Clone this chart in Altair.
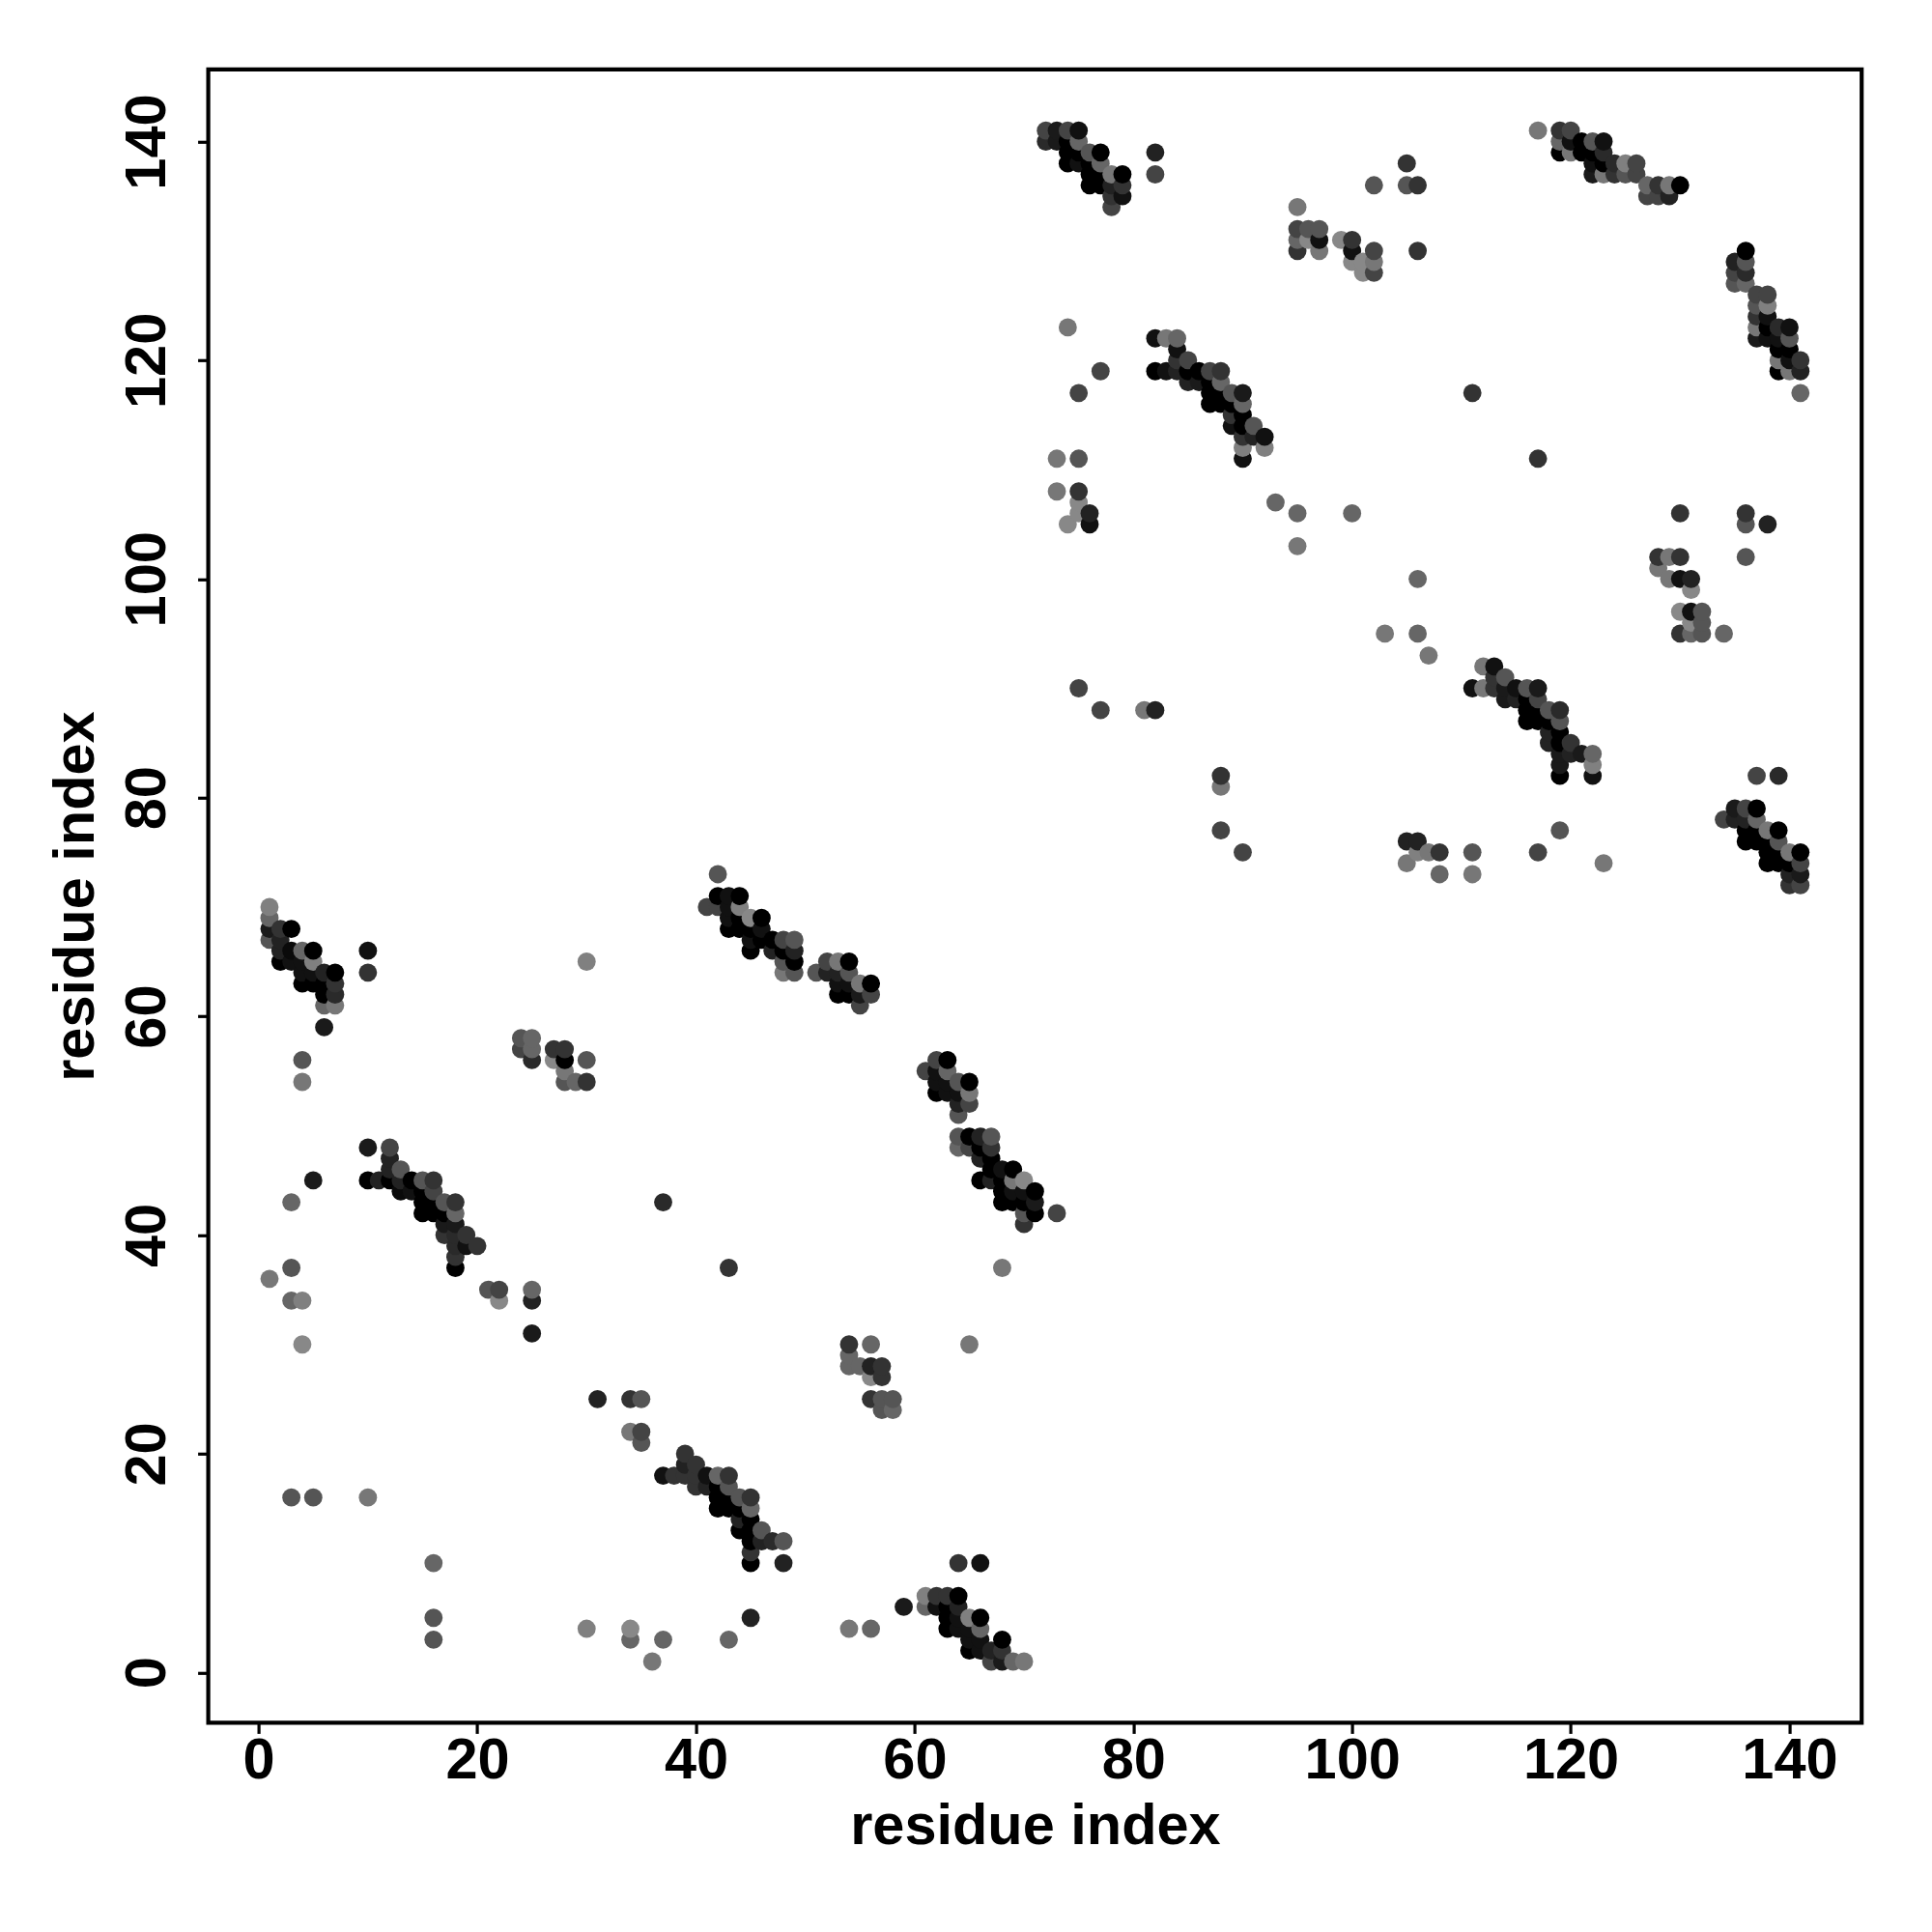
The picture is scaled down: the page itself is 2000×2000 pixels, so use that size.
import altair as alt
import pandas as pd

# (residue on x, residue on y, grey level 0-255)
block_a = [(1,70,0x80),(1,69,0x66),(1,68,0x1a),(1,67,0x55),(2,68,0x33),(2,67,0x22),(2,66,0x22),(2,65,0x00),
 (3,68,0x00),(3,66,0x0a),(3,65,0x11),(4,66,0x66),(4,65,0x11),(4,64,0x11),(4,63,0x00),(5,66,0x00),(5,65,0x80),
 (5,64,0x11),(5,63,0x00),(6,64,0x22),(6,63,0x00),(6,62,0x00),(6,61,0x66),(6,59,0x1a),(7,64,0x00),(7,63,0x33),
 (7,62,0x2a),(7,61,0x77),(10,66,0x11),(10,64,0x33),(4,56,0x55),(4,54,0x77)]
block_b = [(24,58,0x55),(25,58,0x66),(24,57,0x44),(25,57,0x66),(25,56,0x2a),(27,57,0x33),(28,57,0x33),(27,56,0x88),
 (28,56,0x00),(28,55,0x77),(28,54,0x55),(29,54,0x66),(30,56,0x55),(30,54,0x33),(30,65,0x80)]
block_c = [(10,48,0x1a),(12,48,0x44),(10,45,0x00),(11,45,0x22),(12,47,0x22),(12,46,0x22),(12,45,0x00),(13,46,0x55),
 (13,45,0x22),(13,44,0x0a),(14,45,0x00),(14,44,0x11),(15,45,0x55),(15,44,0x00),(15,43,0x00),(15,42,0x00),
 (16,45,0x33),(16,44,0x44),(16,43,0x00),(16,42,0x00),(17,43,0x55),(17,42,0x00),(17,41,0x1a),(17,40,0x33),
 (18,43,0x33),(18,42,0x66),(18,41,0x1a),(18,40,0x2a),(18,39,0x2a),(18,38,0x33),(18,37,0x00),(19,40,0x33),
 (19,39,0x11),(20,39,0x33)]
block_d = [(5,45,0x1a),(3,43,0x66),(3,37,0x55),(1,36,0x77),(3,34,0x66),(4,34,0x80),(4,30,0x88),(21,35,0x55),
 (22,35,0x44),(22,34,0x88),(25,35,0x66),(25,34,0x22),(25,31,0x1a),(37,43,0x2a),(43,37,0x33),(68,37,0x77),(65,30,0x77)]
block_e = [(37,18,0x11),(38,18,0x33),(39,20,0x33),(39,19,0x22),(39,18,0x33),(40,19,0x33),(40,18,0x33),(40,17,0x33),
 (41,18,0x11),(41,17,0x22),(42,18,0x66),(42,17,0x00),(42,16,0x00),(42,15,0x00),(43,18,0x33),(43,17,0x55),
 (43,16,0x00),(43,15,0x00),(44,16,0x55),(44,15,0x00),(44,14,0x22),(44,13,0x00),(45,16,0x33),(45,15,0x66),
 (45,14,0x00),(45,13,0x00),(45,12,0x00),(45,11,0x33),(45,10,0x00),(46,13,0x55),(46,12,0x22),(47,12,0x2a),
 (48,12,0x55),(48,10,0x22)]
block_f = [(45,5,0x22),(43,3,0x66),(37,3,0x66),(36,1,0x77),(34,4,0x88),(34,3,0x66),(30,4,0x80),(54,4,0x77),(56,4,0x66),
 (59,6,0x1a),(64,10,0x33),(66,10,0x11),(3,16,0x55),(5,16,0x55),(10,16,0x77),(16,10,0x66),(16,5,0x55),(16,3,0x55)]
block_g = [(61,7,0x80),(61,6,0x66),(62,7,0x33),(62,6,0x11),(63,7,0x33),(63,6,0x00),(63,5,0x00),(63,4,0x00),(64,7,0x00),
 (64,6,0x22),(64,5,0x11),(64,4,0x11),(65,5,0x80),(65,4,0x11),(65,3,0x11),(65,2,0x00),(66,5,0x00),(66,4,0x66),
 (66,3,0x11),(66,2,0x11),(67,2,0x22),(67,1,0x44),(68,3,0x00),(68,2,0x33),(68,1,0x1a),(69,1,0x66),(70,1,0x77)]
block_h = [(31,25,0x22),(34,25,0x33),(35,25,0x55),(34,22,0x77),(35,22,0x44),(35,21,0x55),(54,30,0x33),(54,29,0x66),
 (54,28,0x66),(55,28,0x66),(56,30,0x66),(56,28,0x22),(57,28,0x33),(57,27,0x33),(56,27,0x88),(56,25,0x33),
 (57,25,0x55),(58,25,0x55),(57,24,0x55),(58,24,0x66)]
block_i = [(42,73,0x55),(41,70,0x44),(42,71,0x00),(42,70,0x44),(43,71,0x11),(43,70,0x11),(43,69,0x11),(43,68,0x00),
 (44,71,0x00),(44,70,0x80),(44,69,0x00),(44,68,0x00),(45,69,0x88),(45,68,0x00),(45,67,0x11),(45,66,0x00),
 (46,69,0x00),(46,68,0x11),(46,67,0x00),(47,67,0x00),(47,66,0x22),(48,67,0x44),(48,66,0x00),(48,65,0x55),
 (48,64,0x77),(49,67,0x55),(49,66,0x22),(49,65,0x00),(49,64,0x55),(51,64,0x55),(52,65,0x44),(52,64,0x22),
 (53,65,0x77),(53,64,0x22),(53,63,0x11),(53,62,0x00),(54,65,0x00),(54,64,0x55),(54,63,0x11),(54,62,0x00),
 (55,63,0x77),(55,62,0x1a),(55,61,0x44),(56,63,0x00),(56,62,0x44)]
block_j = [(61,55,0x44),(62,56,0x44),(62,55,0x11),(62,54,0x11),(62,53,0x00),(63,56,0x00),(63,55,0x66),(63,54,0x11),
 (63,53,0x11),(64,54,0x55),(64,53,0x11),(64,52,0x22),(64,51,0x55),(65,54,0x00),(65,53,0x77),(65,52,0x44),
 (64,49,0x55),(64,48,0x66),(65,49,0x00),(65,48,0x44),(66,49,0x22),(66,48,0x00),(66,47,0x22),(67,49,0x55),
 (67,48,0x33),(67,47,0x00),(67,46,0x00),(66,45,0x00),(67,45,0x22),(68,46,0x11),(68,45,0x00),(69,46,0x00),
 (69,45,0x77),(69,44,0x11),(69,43,0x00),(68,44,0x00),(68,43,0x00),(70,45,0x88),(70,44,0x11),(70,43,0x00),
 (70,42,0x55),(70,41,0x33),(71,44,0x00),(71,43,0x1a),(71,42,0x00),(73,42,0x44)]
block_k = [(72,141,0x44),(72,140,0x2a),(73,141,0x1a),(73,140,0x1a),(74,141,0x44),(74,140,0x00),(74,139,0x00),(74,138,0x00),
 (75,141,0x11),(75,140,0x66),(75,139,0x00),(75,138,0x11),(76,139,0x55),(76,138,0x00),(76,137,0x00),(76,136,0x00),
 (77,139,0x00),(77,138,0x66),(77,137,0x00),(77,136,0x00),(78,137,0x77),(78,136,0x22),(78,135,0x33),(78,134,0x44),
 (79,137,0x00),(79,136,0x33),(79,135,0x11),(82,139,0x22),(82,137,0x44)]
block_l = [(95,134,0x77),(95,132,0x44),(95,131,0x66),(95,130,0x33),(96,132,0x55),(96,131,0x88),(97,132,0x55),(97,131,0x11),
 (97,130,0x77),(99,131,0x88),(100,131,0x33),(100,130,0x11),(100,129,0x88),(101,129,0x88),(101,128,0x88),(102,130,0x44),
 (102,129,0x77),(102,128,0x44),(102,136,0x55),(105,138,0x33),(105,136,0x55),(106,136,0x33),(106,130,0x33)]
block_m = [(82,122,0x11),(83,122,0x77),(84,122,0x66),(82,119,0x00),(83,119,0x11),(84,121,0x11),(84,120,0x33),(84,119,0x22),
 (85,120,0x44),(85,119,0x00),(85,118,0x22),(86,119,0x00),(86,118,0x1a),(87,119,0x44),(87,118,0x00),(87,117,0x00),
 (87,116,0x00),(88,119,0x33),(88,118,0x66),(88,117,0x00),(88,116,0x00),(89,117,0x55),(89,116,0x00),(89,115,0x33),
 (89,114,0x11),(90,117,0x1a),(90,116,0x66),(90,115,0x00),(90,114,0x00),(90,113,0x33),(90,112,0x80),(90,111,0x11),
 (91,114,0x55),(91,113,0x22),(92,113,0x11),(92,112,0x80)]
block_n = [(73,111,0x77),(75,111,0x55),(73,108,0x77),(75,108,0x33),(75,107,0x88),(75,106,0x88),(74,105,0x88),(76,106,0x22),
 (76,105,0x11),(74,123,0x77),(77,119,0x44),(75,117,0x44),(75,90,0x44),(77,88,0x44),(81,88,0x77),(82,88,0x22),
 (88,82,0x33),(88,81,0x77),(88,77,0x44),(90,75,0x44),(93,107,0x66),(95,106,0x66),(95,103,0x77),(100,106,0x66),
 (103,95,0x77),(106,100,0x66),(106,95,0x66),(107,93,0x77),(105,76,0x22),(106,76,0x22),(105,74,0x77),(106,75,0x80),
 (107,75,0x77),(108,75,0x33),(108,73,0x66),(111,75,0x55),(111,73,0x77),(117,75,0x44),(119,77,0x55),(123,74,0x77),
 (117,111,0x33),(111,117,0x33)]
block_o = [(117,141,0x77),(119,141,0x33),(119,140,0x66),(119,139,0x00),(120,141,0x44),(120,140,0x11),(120,139,0x77),
 (121,140,0x00),(121,139,0x00),(122,140,0x55),(122,139,0x00),(122,138,0x11),(122,137,0x1a),(123,140,0x11),(123,139,0x2a),
 (123,138,0x00),(123,137,0x77),(124,138,0x2a),(124,137,0x33),(125,138,0x80),(125,137,0x55),(126,138,0x44),(126,137,0x44),
 (127,136,0x66),(127,135,0x44),(128,136,0x33),(128,135,0x44),(129,136,0x77),(129,135,0x22),(130,136,0x00)]
block_p = [(135,129,0x22),(135,128,0x44),(135,127,0x55),(136,130,0x00),(136,129,0x55),(136,128,0x2a),(136,127,0x66),
 (137,126,0x44),(137,125,0x55),(137,124,0x33),(137,123,0x77),(137,122,0x1a),(138,126,0x44),(138,125,0x80),(138,124,0x11),
 (138,123,0x00),(138,122,0x11),(139,123,0x2a),(139,122,0x11),(139,121,0x00),(139,120,0x77),(139,119,0x00),(140,123,0x11),
 (140,122,0x55),(140,121,0x00),(140,120,0x11),(140,119,0x77),(141,120,0x33),(141,119,0x22),(141,117,0x66)]
block_q = [(111,90,0x11),(112,92,0x77),(112,90,0x77),(113,92,0x11),(113,91,0x33),(113,90,0x33),(114,91,0x55),(114,90,0x1a),
 (114,89,0x1a),(115,90,0x11),(115,89,0x22),(116,90,0x55),(116,89,0x00),(116,88,0x00),(116,87,0x00),(117,90,0x1a),
 (117,89,0x44),(117,88,0x00),(117,87,0x00),(118,88,0x55),(118,87,0x00),(118,86,0x22),(118,85,0x22),(119,88,0x2a),
 (119,87,0x55),(119,86,0x00),(119,85,0x00),(119,84,0x1a),(119,83,0x1a),(119,82,0x00),(120,85,0x33),(120,84,0x22),
 (121,84,0x1a),(122,84,0x66),(122,83,0x80),(122,82,0x11)]
block_r = [(137,82,0x44),(139,82,0x2a),(134,78,0x44),(135,79,0x1a),(135,78,0x22),(136,79,0x44),(136,78,0x22),(136,77,0x00),
 (136,76,0x00),(137,79,0x00),(137,78,0x66),(137,77,0x00),(137,76,0x00),(138,77,0x77),(138,76,0x00),(138,75,0x00),
 (138,74,0x00),(139,77,0x00),(139,76,0x55),(139,75,0x00),(139,74,0x00),(140,75,0x77),(140,74,0x00),(140,73,0x22),
 (140,72,0x33),(141,75,0x00),(141,74,0x44),(141,73,0x1a),(141,72,0x44)]
block_s = [(130,106,0x33),(136,106,0x33),(136,105,0x55),(138,105,0x22),(136,102,0x55),(128,102,0x33),(128,101,0x77),
 (129,102,0x77),(129,100,0x77),(130,102,0x33),(130,100,0x11),(131,100,0x22),(131,99,0x88),(130,97,0x88),(130,95,0x33),
 (131,97,0x11),(131,96,0x88),(132,97,0x55),(132,96,0x55),(132,95,0x55),(131,95,0x66),(134,95,0x66)]

blocks = [block_a, block_b, block_c, block_d, block_e, block_f, block_g, block_h, block_i, block_j,
          block_k, block_l, block_m, block_n, block_o, block_p, block_q, block_r, block_s]
rows = sorted({t for b in blocks for t in b}, key=lambda t: (t[0], t[1]))

df = pd.DataFrame(rows, columns=["i", "j", "g"])
df["shade"] = ["#%02x%02x%02x" % (g, g, g) for g in df["g"]]
df["n"] = range(len(df))

x_ticks = [0, 20, 40, 60, 80, 100, 120, 140]
FONT = "Liberation Sans"

chart = (
    alt.Chart(df)
    .mark_circle(size=355, opacity=1)
    .encode(
        x=alt.X("i:Q", scale=alt.Scale(domain=[-4.6, 146.6], nice=False, zero=False),
                axis=alt.Axis(values=x_ticks, title="residue index", labelFontSize=59.5, titleFontSize=59.5,
                              labelPadding=-1, titlePadding=10, labelFlush=False, labelOverlap=False)),
        y=alt.Y("j:Q", scale=alt.Scale(domain=[-4.6, 146.6], nice=False, zero=False),
                axis=alt.Axis(values=x_ticks, title="residue index", labelFontSize=59.5, titleFontSize=59.5,
                              labelAngle=270, labelAlign="center", labelBaseline="bottom",
                              labelPadding=22, titlePadding=14, labelFlush=False, labelOverlap=False)),
        color=alt.Color("shade:N", scale=None),
        order=alt.Order("n:Q"),
    )
    .properties(
        width=1711.6, height=1711.6, background="white",
        autosize=alt.AutoSizeParams(type="none"),
        padding={"left": 207.6, "top": 63.8, "right": 60, "bottom": 200},
    )
    .configure_axis(grid=False, domain=False, tickColor="black", tickWidth=3.2, tickSize=11,
                    labelColor="black", titleColor="black", labelFont=FONT, titleFont=FONT,
                    labelFontWeight="bold", titleFontWeight="bold")
    .configure_view(stroke="black", strokeWidth=4.2)
)

chart.save("out.html", embed_options={"renderer": "svg", "actions": False})
